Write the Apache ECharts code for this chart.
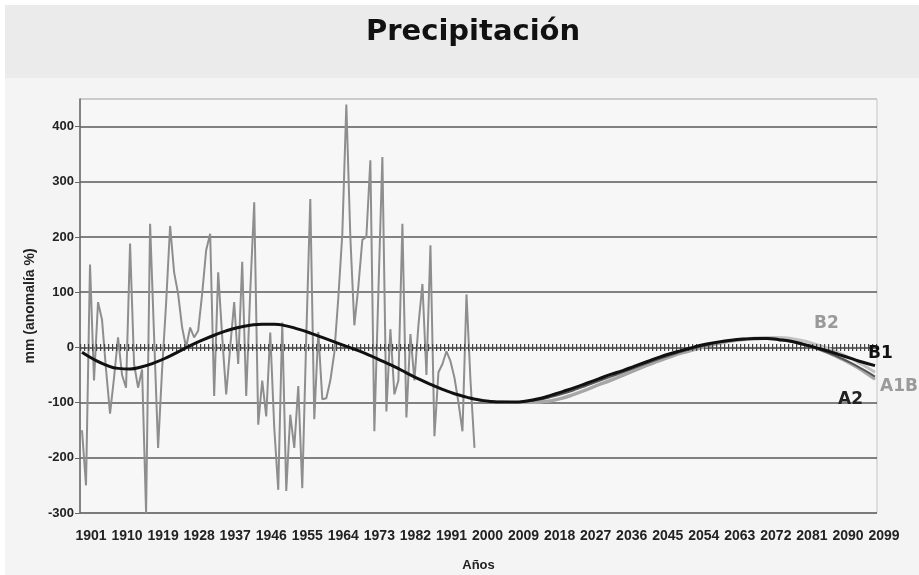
<!DOCTYPE html>
<html>
<head>
<meta charset="utf-8">
<script src="https://cdn.jsdelivr.net/npm/echarts@6/dist/echarts.min.js"></script>
<style>
html,body{margin:0;padding:0;background:#fff;}
#c{width:919px;height:575px;}
</style>
</head>
<body>
<div id="c"></div>
<script>
// ---- data ----
const firstYear = 1901, lastYear = 2099;
const years = [];
for (let y = firstYear; y <= lastYear; y++) years.push(String(y));

// observed anomaly 1901-1999 (%)
const observed = [
 -150,-250,150,-60,82,50,-40,-120,-55,18,
 -50,-73,188,-30,-73,-40,-300,224,20,-182,
 -40,80,220,136,97,36,0,36,18,30,
 97,176,206,-88,136,20,-85,0,82,-30,
 155,-88,100,263,-140,-60,-125,27,-145,-258,
 45,-260,-122,-182,-70,-255,20,269,-130,28,
 -94,-92,-60,-10,90,206,440,200,40,110,
 195,200,339,-152,100,345,-116,33,-85,-60,
 224,-127,24,-60,40,115,-50,185,-161,-45,
 -30,-7,-25,-55,-100,-152,96,-60,-182
];

// smoothed trend (1901-2000) continued by the B1 projection
const trendYears = [1901,1904,1907,1910,1913,1916,1919,1922,1925,1928,1931,1934,1937,1940,1943,1946,1949,1952,1955,1958,1961,1964,1967,1970,1973,1976,1979,1982,1985,1988,1991,1994,1997,2000,2003,2006,2009,2012,2015,2018,2021,2024,2027,2030,2033,2036,2039,2042,2045,2048,2051,2054,2057,2060,2063,2066,2069,2072,2075,2078,2081,2084,2087,2090,2093,2096,2099];
const trendB1  = [-9,-22,-32,-38,-39,-35,-28,-19,-8,3,13,22,30,36,40,42,42,39,33,26,18,10,2,-6,-15,-25,-35,-46,-57,-67,-76,-84,-90,-95,-98,-99,-99,-97,-93,-87,-80,-73,-65,-57,-49,-42,-34,-26,-18,-11,-5,1,6,10,13,15,16,16,14,11,6,0,-6,-13,-20,-27,-33];

// other projection scenarios (2000-2099)
const projYears = [2000,2003,2006,2009,2012,2015,2018,2021,2024,2027,2030,2033,2036,2039,2042,2045,2048,2051,2054,2057,2060,2063,2066,2069,2072,2075,2078,2081,2084,2087,2090,2093,2096,2099];
const projA2  = [-95,-98,-99,-99,-98,-95,-90,-84,-77,-69,-61,-53,-45,-37,-29,-21,-14,-7,-1,4,9,12,14,16,16,14,11,5,-1,-9,-18,-28,-40,-53];
const projA1B = [-95,-98,-99,-100,-100,-99,-97,-92,-85,-77,-68,-60,-51,-42,-33,-25,-17,-10,-4,2,7,11,14,15,16,14,11,6,-1,-9,-19,-30,-43,-58];
const projB2  = [-95,-98,-99,-100,-100,-99,-96,-91,-84,-76,-67,-58,-49,-40,-32,-24,-16,-9,-3,3,8,12,15,17,18,18,16,12,6,-1,-10,-20,-32,-45];

const yMin = -300, yMax = 450, yStep = 100;

// ---- build ----
const pair = (xs, vs) => xs.map((x, i) => [String(x), vs[i]]);
const obsData = observed.map((v, i) => [years[i], v]);

const FONT = "'Liberation Sans Narrow','Liberation Sans',Arial,sans-serif";
const LBL = "bold 17px 'DejaVu Sans',sans-serif";
const chart = echarts.init(document.getElementById('c'), null, {renderer: 'canvas'});

chart.setOption({
  backgroundColor: '#f4f4f4',
  animation: false,
  title: {
    text: 'Precipitación',
    left: 361, top: 13,
    textStyle: {fontFamily: "'DejaVu Sans',Verdana,sans-serif", fontWeight: 'bold', fontSize: 29, color: '#111'}
  },
  graphic: [
    {type: 'rect', silent: true, z: -10, shape: {x: 0, y: 0, width: 919, height: 78}, style: {fill: '#ebebeb'}},
    {type: 'rect', silent: true, z: -9, shape: {x: 0, y: 0, width: 919, height: 5}, style: {fill: '#ffffff'}},
    {type: 'rect', silent: true, z: -9, shape: {x: 0, y: 0, width: 5, height: 575}, style: {fill: '#ffffff'}},
    {type: 'text', z: 100, left: 814, top: 315, style: {text: 'B2', fill: '#9a9a9a', font: LBL}},
    {type: 'text', z: 100, left: 868, top: 345, style: {text: 'B1', fill: '#111', font: LBL}},
    {type: 'text', z: 100, left: 880, top: 378, style: {text: 'A1B', fill: '#9a9a9a', font: LBL}},
    {type: 'text', z: 100, left: 838, top: 391, style: {text: 'A2', fill: '#222', font: LBL}}
  ],
  grid: {left: 80, right: 42, top: 99, bottom: 62, containLabel: false, outerBoundsMode: 'none',
         show: true, backgroundColor: '#f7f7f7', borderColor: '#c4c4c4', borderWidth: 1},
  xAxis: {
    type: 'category', data: years, boundaryGap: true,
    name: 'Años', nameLocation: 'middle', nameGap: 46,
    nameTextStyle: {fontFamily: FONT, fontWeight: 'bold', fontSize: 13, color: '#222'},
    axisLine: {lineStyle: {color: '#666', width: 1.5}},
    axisTick: {show: false},
    axisLabel: {interval: 8, margin: 16, padding: [0, 0, 0, 18], fontFamily: FONT, fontWeight: 'bold', fontSize: 14, color: '#222'},
    splitLine: {show: false}
  },
  yAxis: {
    type: 'value', min: yMin, max: yMax, interval: yStep,
    name: 'mm (anomalía %)', nameLocation: 'middle', nameGap: 38, nameRotate: 90,
    nameTextStyle: {fontFamily: FONT, fontWeight: 'bold', fontSize: 14, color: '#222'},
    axisLine: {show: true, lineStyle: {color: '#666', width: 1.5}},
    axisTick: {show: true, length: 5, lineStyle: {color: '#666'}},
    axisLabel: {showMaxLabel: false, margin: 6, fontFamily: FONT, fontWeight: 'bold', fontSize: 13, color: '#222'},
    splitLine: {show: true, lineStyle: {color: ['#5a5a5a','#5a5a5a','#5a5a5a','#5a5a5a','#5a5a5a','#5a5a5a','#5a5a5a','#5a5a5a','#c4c4c4'], width: 1.5}}
  },
  series: [
    {
      name: 'Observado', type: 'line', data: obsData, showSymbol: false, symbol: 'none',
      lineStyle: {color: '#8e8e8e', width: 2}, z: 2,
      markLine: {
        silent: true, symbol: 'none', label: {show: false},
        lineStyle: {color: '#444', width: 7, type: [1.2, 2.8]},
        data: [{yAxis: 0}]
      }
    },
    {name: 'B2', type: 'line', data: pair(projYears, projB2), smooth: true, symbol: 'none', lineStyle: {color: '#c2c2c2', width: 3}, z: 3},
    {name: 'A1B', type: 'line', data: pair(projYears, projA1B), smooth: true, symbol: 'none', lineStyle: {color: '#a6a6a6', width: 3}, z: 3},
    {name: 'A2', type: 'line', data: pair(projYears, projA2), smooth: true, symbol: 'none', lineStyle: {color: '#555', width: 2}, z: 4},
    {name: 'B1', type: 'line', data: pair(trendYears, trendB1), smooth: true, symbol: 'none', lineStyle: {color: '#111', width: 3}, z: 5}
  ]
});
</script>
</body>
</html>
